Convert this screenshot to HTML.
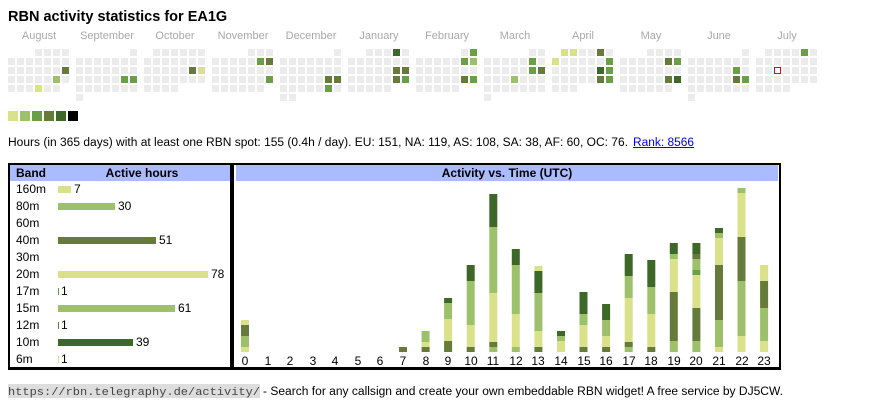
<!DOCTYPE html>
<html><head><meta charset="utf-8"><style>
html,body{margin:0;padding:0;background:#fff;width:870px;height:407px;overflow:hidden}
svg{display:block}
text{font-family:"Liberation Sans",Arial,sans-serif}
</style></head><body>
<svg id="s" width="870" height="407" xmlns="http://www.w3.org/2000/svg">
<text x="8" y="21" font-size="14.5" font-weight="bold" fill="#000">RBN activity statistics for EA1G</text>
<g font-size="11" fill="#a8a8a8" text-anchor="middle">
<text x="39" y="39">August</text><text x="107" y="39">September</text><text x="175" y="39">October</text><text x="243" y="39">November</text><text x="311" y="39">December</text><text x="379" y="39">January</text><text x="447" y="39">February</text><text x="515" y="39">March</text><text x="583" y="39">April</text><text x="651" y="39">May</text><text x="719" y="39">June</text><text x="787" y="39">July</text>
</g>
<g id="cal"></g>
<g>
<rect x="8" y="111" width="10" height="10" fill="#d9e189"/><rect x="20" y="111" width="10" height="10" fill="#9dc16b"/><rect x="32" y="111" width="10" height="10" fill="#6a9f46"/><rect x="44" y="111" width="10" height="10" fill="#667a3a"/><rect x="56" y="111" width="10" height="10" fill="#3e6828"/><rect x="68" y="111" width="10" height="10" fill="#000"/>
</g>
<text x="8" y="146" font-size="11.5" fill="#000" textLength="620" lengthAdjust="spacingAndGlyphs">Hours (in 365 days) with at least one RBN spot: 155 (0.4h / day). EU: 151, NA: 119, AS: 108, SA: 38, AF: 60, OC: 76.</text>
<text x="633" y="146" font-size="11.5" fill="#0000ee" textLength="61" lengthAdjust="spacingAndGlyphs">Rank: 8566</text>
<rect x="633" y="147" width="61" height="1" fill="#0000ee"/>
<rect x="10" y="165" width="220" height="16" fill="#aabbff"/>
<rect x="236" y="165" width="542" height="16" fill="#aabbff"/>
<rect x="8" y="163" width="773" height="2" fill="#000"/>
<rect x="8" y="367" width="224" height="3" fill="#000"/>
<rect x="230" y="367" width="551" height="3" fill="#000"/>
<rect x="8" y="163" width="2" height="207" fill="#000"/>
<rect x="230" y="163" width="4" height="207" fill="#000"/>
<rect x="779" y="163" width="2" height="207" fill="#000"/>
<text x="16" y="177" font-size="12" font-weight="bold">Band</text>
<text x="142" y="177" font-size="12" font-weight="bold" text-anchor="middle">Active hours</text>
<text x="507" y="177" font-size="12" font-weight="bold" text-anchor="middle">Activity vs. Time (UTC)</text>
<g font-size="12" fill="#000">
<text x="16" y="193">160m</text><text x="16" y="210">80m</text><text x="16" y="227">60m</text><text x="16" y="244">40m</text><text x="16" y="261">30m</text><text x="16" y="278">20m</text><text x="16" y="295">17m</text><text x="16" y="312">15m</text><text x="16" y="329">12m</text><text x="16" y="346">10m</text><text x="16" y="363">6m</text>
<text x="74" y="193">7</text><text x="118" y="210">30</text><text x="159" y="244">51</text><text x="211" y="278">78</text><text x="61" y="295">1</text><text x="178" y="312">61</text><text x="61" y="329">1</text><text x="136" y="346">39</text><text x="61" y="363">1</text>
</g>
<g>
<rect x="58" y="186" width="13" height="7" fill="#d9e189"/>
<rect x="58" y="203" width="57" height="7" fill="#9dc16b"/>
<rect x="58" y="237" width="98" height="7" fill="#667a3a"/>
<rect x="58" y="271" width="150" height="7" fill="#d9e189"/>
<rect x="58" y="288" width="1" height="7" fill="#6a9f46"/>
<rect x="58" y="305" width="117" height="7" fill="#9dc16b"/>
<rect x="58" y="322" width="1" height="7" fill="#667a3a"/>
<rect x="58" y="339" width="75" height="7" fill="#3e6828"/>
<rect x="58" y="356" width="1" height="7" fill="#d9e189"/>
</g>
<g id="bars"></g>
<g font-size="12" text-anchor="middle" fill="#000">
<text x="245" y="365">0</text><text x="268" y="365">1</text><text x="290" y="365">2</text><text x="313" y="365">3</text><text x="335" y="365">4</text><text x="358" y="365">5</text><text x="380" y="365">6</text><text x="403" y="365">7</text><text x="426" y="365">8</text><text x="448" y="365">9</text><text x="471" y="365">10</text><text x="493" y="365">11</text><text x="516" y="365">12</text><text x="538" y="365">13</text><text x="561" y="365">14</text><text x="584" y="365">15</text><text x="606" y="365">16</text><text x="629" y="365">17</text><text x="651" y="365">18</text><text x="674" y="365">19</text><text x="696" y="365">20</text><text x="719" y="365">21</text><text x="742" y="365">22</text><text x="764" y="365">23</text>
</g>
<rect x="8" y="384" width="252" height="14" fill="#dddddd"/>
<text x="8" y="395" font-size="11" fill="#444" textLength="252" lengthAdjust="spacingAndGlyphs" style="font-family:'Liberation Mono',monospace">https://rbn.telegraphy.de/activity/</text>
<text x="263" y="395" font-size="11.5" fill="#000" textLength="520" lengthAdjust="spacingAndGlyphs">- Search for any callsign and create your own embeddable RBN widget! A free service by DJ5CW.</text>
</svg>
<script>
var NS="http://www.w3.org/2000/svg";
var C={1:"#d9e189",2:"#9dc16b",3:"#6a9f46",4:"#667a3a",5:"#3e6828"};
function R(g,x,y,w,h,f,st){var r=document.createElementNS(NS,"rect");r.setAttribute("x",x);r.setAttribute("y",y);r.setAttribute("width",w);r.setAttribute("height",h);r.setAttribute("fill",f);if(st){r.setAttribute("stroke",st);r.setAttribute("stroke-width","1");}g.appendChild(r);}
var cal=document.getElementById("cal");
var months=[[3,31],[6,30],[1,31],[4,30],[6,31],[2,31],[5,28],[5,31],[1,30],[3,31],[6,30],[1,31]];
var col={"0,3,6":4,"0,4,5":2,"0,5,3":1,"1,4,5":3,"1,4,6":3,"2,3,5":4,"2,3,6":1,"3,2,5":3,"3,2,6":4,"3,4,6":3,"4,4,5":4,"4,4,6":4,"4,5,5":3,"5,1,5":5,"5,3,5":4,"5,3,6":4,"5,4,5":4,"5,4,6":3,"6,1,6":3,"6,2,5":3,"6,2,6":2,"6,4,5":4,"6,4,6":3,"7,4,3":2,"7,2,5":3,"7,3,5":3,"7,3,6":4,"8,1,1":1,"8,1,2":1,"8,2,0":1,"8,1,5":4,"8,2,6":3,"8,3,5":5,"8,3,6":3,"8,4,5":4,"8,4,6":3,"9,2,5":4,"9,2,6":3,"9,4,5":4,"9,4,6":5,"10,3,5":3,"10,4,5":4,"10,4,6":3,"11,1,5":3};
months.forEach(function(m,i){var x0=8+68*i;for(var d=0;d<m[1];d++){var p=m[0]+d,r=Math.floor(p/7)+1,c=p%7;var k=i+","+r+","+c;var x=x0+9*c,y=40+9*r;
if(i==11&&r==3&&c==2){R(cal,x+0.5,y+0.5,6,6,"#fff","#e00");}else R(cal,x,y,7,7,col[k]?C[col[k]]:"#ececec");}});
var bars=document.getElementById("bars");
var B=[[[347,352,1],[336,347,2],[325,336,4],[320,325,1]],[],[],[],[],[],[],[[347,352,4]],[[347,352,4],[342,347,1],[331,342,2]],[[341,352,4],[319,341,1],[303,319,2],[298,303,5]],[[347,352,4],[325,347,1],[281,325,2],[265,281,5]],[[347,352,2],[342,347,4],[293,342,1],[227,293,2],[194,227,5]],[[347,352,2],[314,347,1],[265,314,2],[249,265,5]],[[347,352,4],[331,347,1],[293,331,2],[271,293,5],[266,271,1]],[[341,352,1],[336,341,2],[331,336,5]],[[347,352,4],[325,347,1],[314,325,2],[292,314,5]],[[347,352,4],[336,347,1],[320,336,2],[304,320,5]],[[347,352,2],[342,347,4],[298,342,1],[276,298,2],[254,276,5]],[[347,352,4],[314,347,1],[287,314,2],[260,287,5]],[[341,352,2],[292,341,4],[259,292,1],[254,259,2],[243,254,5]],[[341,352,2],[308,341,4],[275,308,1],[270,275,3],[259,270,2],[254,259,4],[243,254,5]],[[347,352,1],[320,347,2],[265,320,4],[238,265,1],[233,238,2],[228,233,5]],[[336,352,1],[281,336,2],[237,281,4],[193,237,1],[188,193,2]],[[341,352,1],[308,341,2],[281,308,4],[265,281,1]]];
B.forEach(function(s,h){var cx=245+h*22.57;s.forEach(function(g){R(bars,(cx-4).toFixed(1),g[0],8,g[1]-g[0],C[g[2]]);});});
</script>
</body></html>
